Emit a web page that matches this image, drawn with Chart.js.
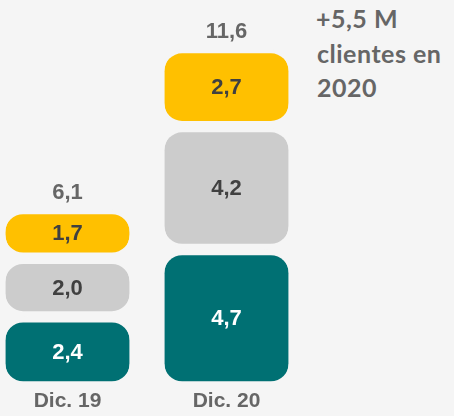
<!DOCTYPE html>
<html>
<head>
<meta charset="utf-8">
<script src="https://cdn.jsdelivr.net/npm/chart.js@4"></script>
<style>
  html, body { margin: 0; padding: 0; background: #f5f5f5; }
  body { width: 454px; height: 416px; position: relative; overflow: hidden; }
  #wrap { position: absolute; left: -12px; top: 0; width: 318px; height: 416px; }
  #nota {
    position: absolute; left: 316px; top: 1px;
    font-family: Lato, "Open Sans", sans-serif; font-weight: bold;
    font-size: 25px; line-height: 34.5px; color: #666; letter-spacing: 0.5px;
  }
  #nota span { display: block; white-space: nowrap; }
  #nota .ind { padding-left: 1px; }
</style>
</head>
<body>
<div id="wrap"><canvas id="grafico"></canvas></div>
<div id="nota"><span>+5,5 M</span><span class="ind">clientes en</span><span class="ind">2020</span></div>
<script>
// Datos (millones de clientes)
const periodos = ['Dic. 19', 'Dic. 20'];
const serieBase = [2.4, 4.7];
const serieMedia = [2.0, 4.2];
const serieAlta = [1.7, 2.7];

const colores = ['#007073', '#cccccc', '#ffc000'];
const coloresTexto = ['#ffffff', '#404040', '#404040'];

const fmt = v => v.toFixed(1).replace('.', ',');

Chart.defaults.font.family = '"Liberation Sans", Arial, sans-serif';
Chart.defaults.font.weight = 'bold';

// Etiquetas dentro de cada bloque y total encima
const etiquetas = {
    id: 'etiquetas',
    afterDatasetsDraw(chart) {
        const ctx = chart.ctx;
        ctx.save();
        ctx.textAlign = 'center';
        ctx.textBaseline = 'middle';
        ctx.font = 'bold 22px "Liberation Sans", Arial, sans-serif';
        chart.data.datasets.forEach((ds, i) => {
            const meta = chart.getDatasetMeta(i);
            meta.data.forEach((bar, j) => {
                const p = bar.getCenterPoint();
                ctx.fillStyle = coloresTexto[i];
                ctx.fillText(fmt(ds.data[j]), p.x, p.y + 1);
            });
        });
        // totales
        const ultimo = chart.getDatasetMeta(chart.data.datasets.length - 1);
        ultimo.data.forEach((bar, j) => {
            const total = chart.data.datasets.reduce((s, ds) => s + ds.data[j], 0);
            ctx.fillStyle = '#666666';
            ctx.fillText(fmt(total), bar.x, bar.y - 16);
        });
        ctx.restore();
    }
};

const comunes = {
    borderColor: '#f5f5f5',
    borderWidth: { top: 6, bottom: 6, left: 0, right: 0 },
    borderSkipped: false,
    borderRadius: { topLeft: 24, topRight: 24, bottomLeft: 24, bottomRight: 24 },
    barThickness: 124
};

new Chart(document.getElementById('grafico'), {
    type: 'bar',
    data: {
        labels: periodos,
        datasets: [
            { label: 'base', data: serieBase, backgroundColor: colores[0], ...comunes },
            { label: 'media', data: serieMedia, backgroundColor: colores[1], ...comunes },
            { label: 'alta', data: serieAlta, backgroundColor: colores[2], ...comunes }
        ]
    },
    options: {
        responsive: true,
        maintainAspectRatio: false,
        animation: false,
        layout: { padding: 0 },
        scales: {
            x: {
                stacked: true,
                grid: { display: false, drawTicks: false, tickLength: 0 },
                border: { display: false },
                ticks: {
                    color: '#666666',
                    padding: 4,
                    font: { size: 21, weight: 'bold', lineHeight: 1 }
                }
            },
            y: {
                stacked: true,
                display: false,
                min: 0,
                max: 13.23
            }
        },
        plugins: {
            legend: { display: false },
            tooltip: { enabled: false }
        }
    },
    plugins: [etiquetas]
});
</script>
</body>
</html>
